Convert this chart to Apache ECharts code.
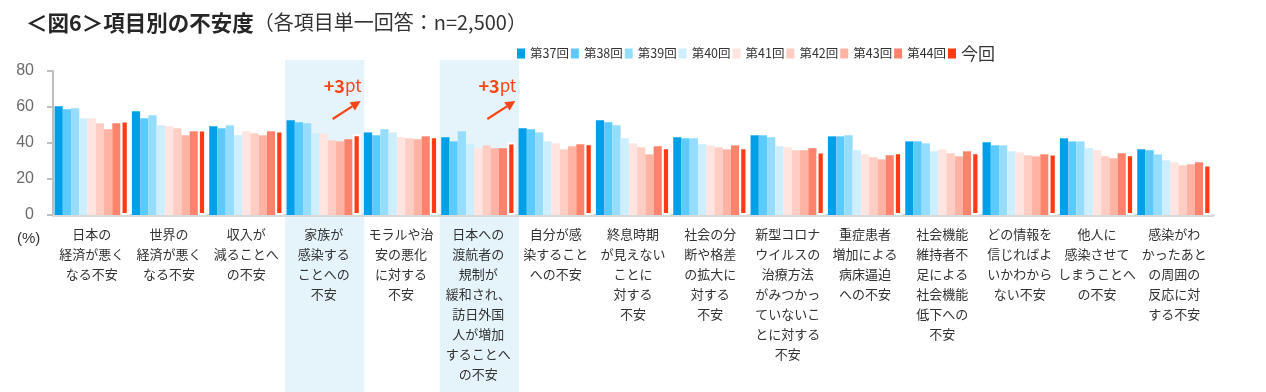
<!DOCTYPE html>
<html>
<head>
<meta charset="utf-8">
<script src="https://cdn.jsdelivr.net/npm/echarts@6/dist/echarts.min.js"></script>
<style>
html,body{margin:0;padding:0;background:#fff;}
#c{width:1266px;height:392px;}
</style>
</head>
<body>
<div id="c"></div>
<script>
const categories = [
  '日本の\n経済が悪く\nなる不安',
  '世界の\n経済が悪く\nなる不安',
  '収入が\n減ることへ\nの不安',
  '家族が\n感染する\nことへの\n不安',
  'モラルや治\n安の悪化\nに対する\n不安',
  '日本への\n渡航者の\n規制が\n緩和され、\n訪日外国\n人が増加\nすることへ\nの不安',
  '自分が感\n染すること\nへの不安',
  '終息時期\nが見えない\nことに\n対する\n不安',
  '社会の分\n断や格差\nの拡大に\n対する\n不安',
  '新型コロナ\nウイルスの\n治療方法\nがみつかっ\nていないこ\nとに対する\n不安',
  '重症患者\n増加による\n病床逼迫\nへの不安',
  '社会機能\n維持者不\n足による\n社会機能\n低下への\n不安',
  'どの情報を\n信じればよ\nいかわから\nない不安',
  '他人に\n感染させて\nしまうことへ\nの不安',
  '感染がわ\nかったあと\nの周囲の\n反応に対\nする不安'
];
const seriesNames = ['第37回','第38回','第39回','第40回','第41回','第42回','第43回','第44回','今回'];
const s37 = [60.4, 57.6, 49.3, 52.6, 45.9, 43.2, 48.2, 52.6, 43.2, 44.3, 43.7, 40.9, 40.4, 42.6, 36.5];
const s38 = [58.7, 53.7, 48.2, 51.5, 44.3, 40.9, 47.6, 51.5, 42.6, 44.3, 43.7, 40.9, 38.7, 40.9, 36.0];
const s39 = [59.3, 55.4, 49.8, 51.0, 47.6, 46.5, 45.9, 49.8, 42.6, 43.2, 44.3, 39.8, 38.7, 40.9, 33.7];
const s40 = [53.7, 49.8, 44.3, 45.4, 45.9, 39.3, 40.9, 42.6, 39.3, 38.2, 36.0, 35.4, 35.4, 37.1, 30.4];
const s41 = [53.7, 49.3, 46.5, 45.4, 43.2, 37.1, 39.8, 39.8, 38.7, 37.6, 33.7, 36.5, 34.8, 36.0, 29.3];
const s42 = [51.0, 48.2, 45.4, 41.5, 42.6, 38.7, 36.5, 37.6, 37.6, 36.0, 32.1, 34.3, 33.2, 32.6, 27.6];
const s43 = [47.6, 44.3, 44.3, 40.9, 42.1, 37.1, 38.2, 33.7, 36.5, 36.0, 30.9, 32.6, 32.6, 31.5, 28.2];
const s44 = [51.0, 46.5, 46.5, 42.1, 43.7, 37.1, 39.3, 38.2, 38.7, 37.1, 33.2, 35.4, 33.7, 34.3, 29.3];
const sNow = [52.5, 47.5, 47.0, 44.8, 43.7, 40.3, 39.8, 37.6, 37.6, 35.3, 34.8, 34.8, 34.2, 33.7, 28.1];
const yTicks = [0, 20, 40, 60, 80];
const highlightIdx = [3, 5];
const annoText = '+3pt';

const allData = [s37, s38, s39, s40, s41, s42, s43, s44, sNow];
const colors = ['#00A0E9','#5BCBFF','#96DCFF','#CCEEFF','#FFE4E0','#FFCDC3','#FFB3A4','#FF836C','#FF3A14'];
const FONT = '"Noto Sans CJK JP", "Noto Sans", sans-serif';

const chart = echarts.init(document.getElementById('c'), null, {renderer: 'canvas'});
const option = {
  animation: false,
  textStyle: {fontFamily: FONT},
  title: {
    left: 21, top: 7,
    text: '{b|＜図6＞項目別の不安度}{n|（各項目単一回答：n=2,500）}',
    textStyle: {
      rich: {
        b: {fontSize: 21.5, fontWeight: 'bold', color: '#262626', fontFamily: FONT},
        n: {fontSize: 20, fontWeight: 'normal', color: '#333', fontFamily: FONT}
      }
    }
  },
  legend: {
    left: 512, top: 40,
    icon: 'rect', itemWidth: 8, itemHeight: 10, itemGap: 2,
    itemStyle: {borderWidth: 0},
    data: seriesNames,
    formatter: n => n === '今回' ? '{big|今回}' : n,
    textStyle: {fontSize: 12.5, color: '#333', fontFamily: FONT,
      rich: {big: {fontSize: 17, color: '#333', fontFamily: FONT}}}
  },
  grid: {left: 53, right: 53, top: 71, bottom: 177, containLabel: false},
  xAxis: {
    type: 'category', data: categories,
    axisLine: {lineStyle: {color: '#D9D9D9', width: 3}},
    axisTick: {show: false},
    axisLabel: {interval: 0, fontSize: 13, lineHeight: 20, color: '#333', margin: 9, fontFamily: FONT}
  },
  yAxis: {
    type: 'value', min: yTicks[0], max: yTicks[yTicks.length - 1], interval: 20,
    splitLine: {show: false},
    axisLine: {show: true, lineStyle: {color: '#BFBFBF', width: 2}},
    axisTick: {show: true, length: 6, lineStyle: {color: '#BFBFBF', width: 2}},
    axisLabel: {fontSize: 16, color: '#6B6B6B', margin: 19, fontFamily: '"Liberation Sans", Arial, sans-serif'}
  },
  series: seriesNames.map((name, i) => ({
    name, type: 'bar', data: allData[i],
    barGap: 0, barCategoryGap: '4%',
    itemStyle: i === 8 ? {color: colors[i], borderColor: '#fff', borderWidth: 2} : {color: colors[i]}
  }))
};
chart.setOption(option);

function addGraphics() {
  const g = [];
  const p0 = chart.convertToPixel({xAxisIndex: 0}, 0);
  const p1 = chart.convertToPixel({xAxisIndex: 0}, 1);
  const pitch = p1 - p0;
  g.push({type: 'text', left: 17, top: 231, z: 100,
    style: {text: '(%)', fontSize: 15, fill: '#333', font: '15px ' + FONT}});
  highlightIdx.forEach(idx => {
    const cx = chart.convertToPixel({xAxisIndex: 0}, idx);
    g.push({type: 'rect', z: -10, silent: true,
      shape: {x: cx - pitch / 2, y: 60, width: pitch + 2, height: 340},
      style: {fill: '#E5F4FB'}});
    g.push({type: 'text', z: 100, x: cx + 19, y: 86,
      style: {text: '{a|+3}{b|pt}', align: 'center', verticalAlign: 'middle',
        rich: {a: {fontSize: 18, fontWeight: 'bold', fill: '#FA4518', fontFamily: FONT},
               b: {fontSize: 17, fill: '#FA4518', fontFamily: FONT}}}});
    const x1 = cx + 9, y1 = 119, x2 = cx + 37, y2 = 101;
    const ang = Math.atan2(y2 - y1, x2 - x1);
    const hl = 10, hw = 5;
    const bx = x2 - hl * Math.cos(ang), by = y2 - hl * Math.sin(ang);
    g.push({type: 'line', z: 100, shape: {x1, y1, x2: bx, y2: by},
      style: {stroke: '#FA4518', lineWidth: 2.2}});
    g.push({type: 'polygon', z: 100, shape: {points: [
      [x2, y2],
      [bx + hw * Math.sin(ang), by - hw * Math.cos(ang)],
      [bx - hw * Math.sin(ang), by + hw * Math.cos(ang)]
    ]}, style: {fill: '#FA4518'}});
  });
  chart.setOption({graphic: g});
}
addGraphics();
</script>
</body>
</html>
